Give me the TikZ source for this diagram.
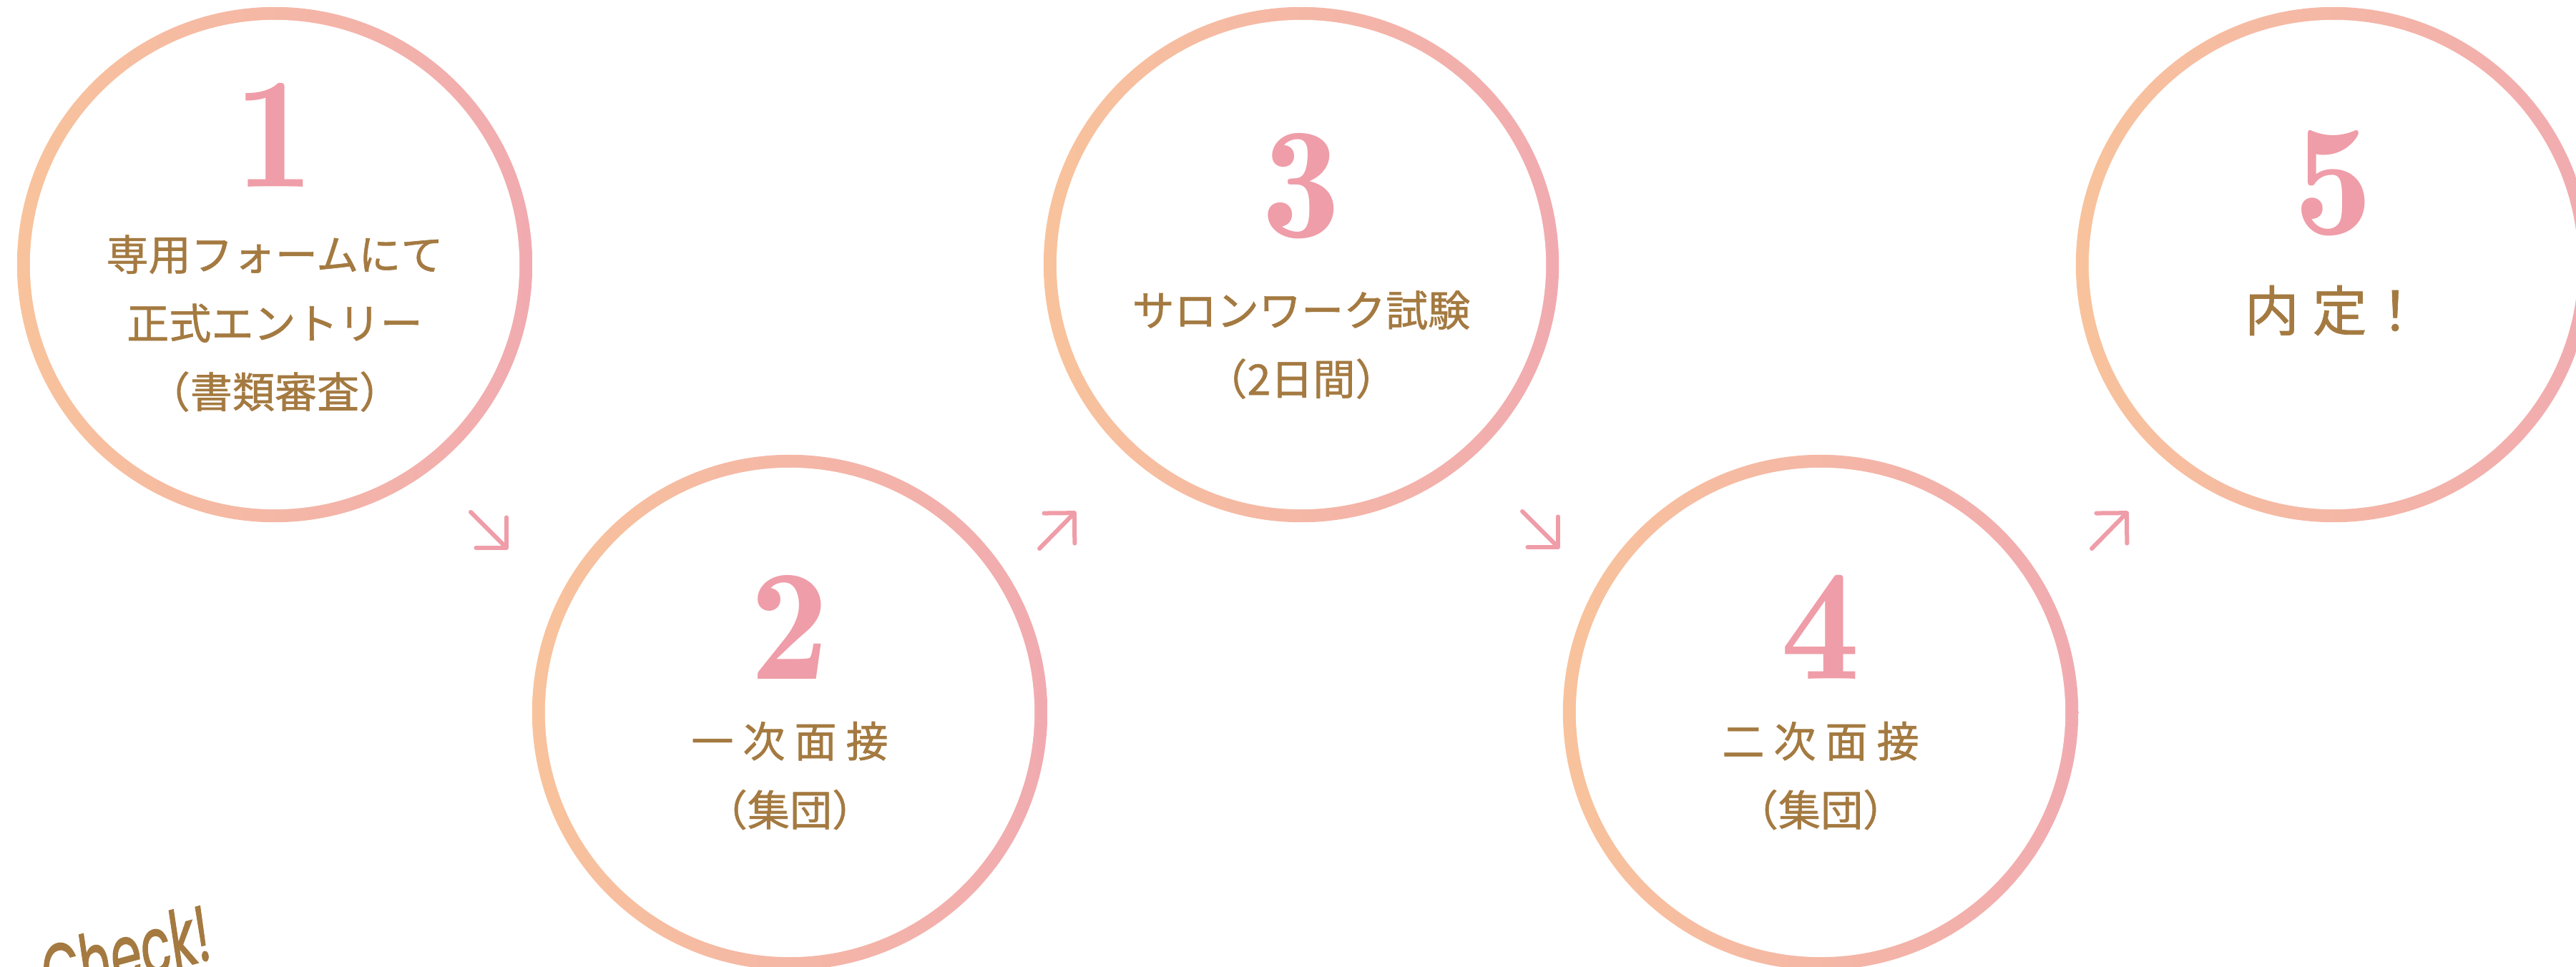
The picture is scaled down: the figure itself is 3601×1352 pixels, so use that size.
\documentclass[tikz,border=0pt]{standalone}
\usepackage{fontspec}
\newfontfamily\jpfont{Noto Sans CJK JP}[FakeBold=1]
\newfontfamily\stepnumfont{lmromandemi10-regular.otf}
\newfontfamily\checkfont{Poppins}[FakeBold=1.5]
\usetikzlibrary{arrows.meta}

\definecolor{ringpeach}{HTML}{F8C39C}
\definecolor{ringpink}{HTML}{F1ABB0}
\definecolor{numpink}{HTML}{EF9DA8}
\definecolor{textbrown}{HTML}{A47A41}

\newcommand\tsp{\hspace{.22em}}

\begin{document}
\begin{tikzpicture}[x=0.01cm,y=-0.01cm,
  stepring/.style={circle,minimum size=7.2cm,inner sep=0pt,outer sep=0pt,
    path picture={
      \shade[left color=ringpeach,right color=ringpink]
        (path picture bounding box.south west) rectangle (path picture bounding box.north east);
      \fill[white] (path picture bounding box.center) circle (3.42cm);}},
  stepnum/.style={anchor=base,inner sep=0pt,text=numpink,
    font=\stepnumfont\fontsize{63pt}{63pt}\selectfont},
  steptext/.style={align=center,inner sep=0pt,text=textbrown,
    font=\jpfont\fontsize{16.8pt}{27.3pt}\selectfont},
  steparrow/.style={-{Straight Barb[round,length=0.3cm,width=0.6cm]},
    line width=0.06cm,line cap=round,draw=numpink}]
  \useasboundingbox (0,0) rectangle (3601,1352);

  % rings
  \node[stepring] (s1) at (384,370) {};
  \node[stepring] (s2) at (1104,996) {};
  \node[stepring] (s3) at (1819,370) {};
  \node[stepring] (s4) at (2545,996) {};
  \node[stepring] (s5) at (3262,370) {};

  % numbers
  \node[stepnum] (n1) at ([yshift=1.08cm]s1.center) {1};
  \node[stepnum] (n2) at ([yshift=0.46cm]s2.center) {2};
  \node[stepnum] (n3) at ([yshift=0.38cm]s3.center) {3};
  \node[stepnum] (n4) at ([yshift=0.46cm]s4.center) {4};
  \node[stepnum] (n5) at ([yshift=0.42cm]s5.center) {5};

  % texts
  \node[steptext] (t1) at ([yshift=-0.82cm]s1.center)
    {専用フォームにて\\正式エントリー\\（書類審査）};
  \node[steptext] (t2) at ([yshift=-0.885cm]s2.center)
    {一\tsp 次\tsp 面\tsp 接\\（集団）};
  \node[steptext] (t3) at ([yshift=-1.12cm]s3.center)
    {サロンワーク試験\\（2日間）};
  \node[steptext] (t4) at ([yshift=-0.885cm]s4.center)
    {二\tsp 次\tsp 面\tsp 接\\（集団）};
  \node[steptext,font=\jpfont\fontsize{21.6pt}{27.3pt}\selectfont] (t5)
    at ([yshift=-0.64cm]s5.center) {内\hspace{.25em}定\hspace{.02em}！};

  % arrows
  \coordinate (a1s) at (658,716);  \coordinate (a1e) at (710,768);
  \coordinate (a2s) at (1453,767); \coordinate (a2e) at (1504,715);
  \coordinate (a3s) at (2128,715); \coordinate (a3e) at (2180,767);
  \coordinate (a4s) at (2924,767); \coordinate (a4e) at (2975,715);
  \draw[steparrow] (a1s) -- (a1e);
  \draw[steparrow] (a2s) -- (a2e);
  \draw[steparrow] (a3s) -- (a3e);
  \draw[steparrow] (a4s) -- (a4e);

  \node[anchor=base west,rotate=15,inner sep=0pt,text=textbrown,
    font=\checkfont\itshape\fontsize{31pt}{31pt}\selectfont]
    (chk) at (68,1402) {\scalebox{0.64}[1]{Check!}};
\end{tikzpicture}
\end{document}
